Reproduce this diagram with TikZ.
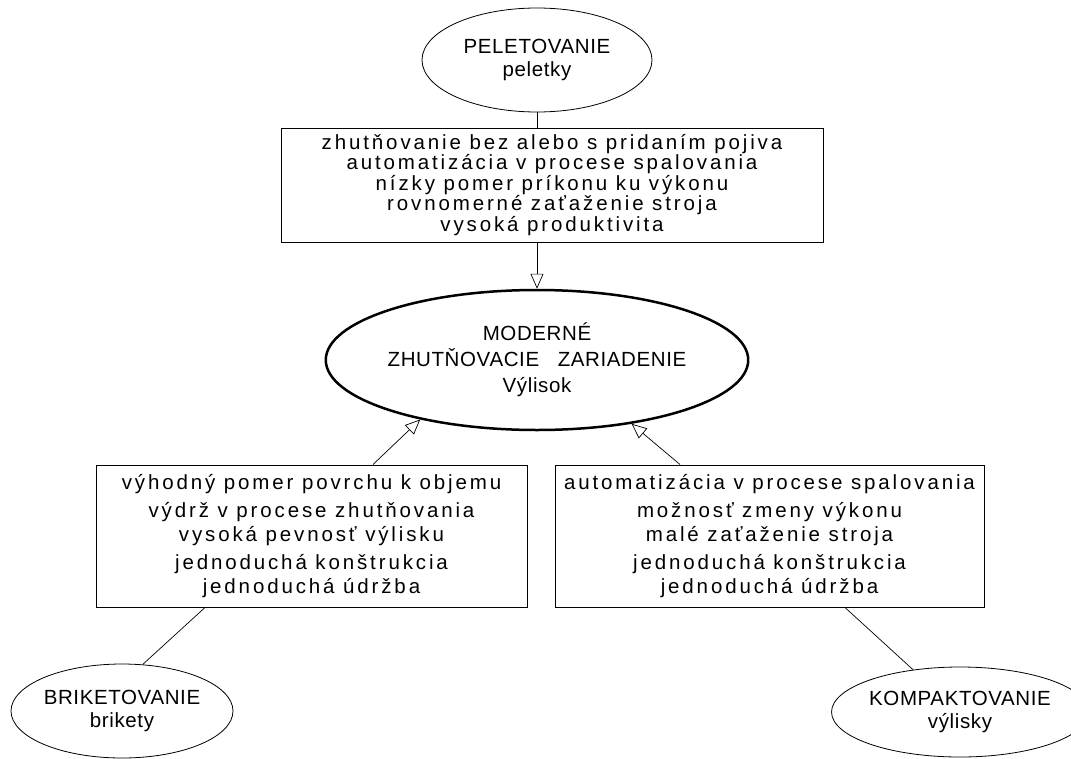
\documentclass[tikz,border=0pt]{standalone}
\usepackage{fontspec}
\setmainfont{Liberation Sans}
\newfontfamily\boxfont{Liberation Sans}[LetterSpace=14]
\newfontfamily\ellfont{Liberation Sans}[LetterSpace=3]
\usetikzlibrary{shapes.geometric,arrows.meta}
\tikzset{
  ell/.style={draw, ellipse, line width=0.8pt, inner sep=0pt, align=center,
    font=\ellfont\fontsize{20.5}{23}\selectfont},
  infobox/.style={draw, rectangle, line width=1pt, inner sep=0pt, align=center,
    font=\boxfont\fontsize{20.5}{20.5}\selectfont},
  conn/.style={line width=0.7pt},
  openarrow/.style={line width=0.7pt, -{Triangle[open,length=15pt,width=13pt]}}
}
\begin{document}
\begin{tikzpicture}[x=1pt,y=-1pt]
\useasboundingbox (0,0) rectangle (1071,758);

\node[ell, minimum width=230pt, minimum height=104pt] (pel) at (537,60)
  {PELETOVANIE\\peletky};

\node[infobox, minimum width=542pt, minimum height=114pt] (top) at (552,185)
  {zhutňovanie bez alebo s pridaním pojiva\\
   automatizácia v procese spalovania\\
   nízky pomer príkonu ku výkonu\\
   rovnomerné zaťaženie stroja\\
   vysoká produktivita};

\node[ell, line width=2.5pt, minimum width=380pt, minimum height=140pt,
  font=\ellfont\fontsize{20.5}{26}\selectfont] (mod) at (537,360)
  {MODERNÉ\\ZHUTŇOVACIE\hspace{0.6em} ZARIADENIE\\Výlisok};

\node[infobox, minimum width=431pt, minimum height=142pt,
  font=\boxfont\fontsize{20.5}{23.5}\selectfont] (lbox) at (311.5,536)
  {výhodný pomer povrchu k objemu\\[5pt]
   výdrž v procese zhutňovania\\
   vysoká pevnosť výlisku\\[5pt]
   jednoduchá konštrukcia\\
   jednoduchá údržba};

\node[infobox, minimum width=429pt, minimum height=142pt,
  font=\boxfont\fontsize{20.5}{23.5}\selectfont] (rbox) at (769.5,536)
  {automatizácia v procese spalovania\\[5pt]
   možnosť zmeny výkonu\\
   malé zaťaženie stroja\\[5pt]
   jednoduchá konštrukcia\\
   jednoduchá údržba};

\node[ell, minimum width=222pt, minimum height=94pt] (bri) at (122,711)
  {BRIKETOVANIE\\brikety};

\node[ell, minimum width=220pt, minimum height=90pt] (kom) at (960,712)
  {KOMPAKTOVANIE\\výlisky};

\draw[conn] (pel.south) -- (pel.south |- top.north);
\draw[openarrow] (mod.north |- top.south) -- (mod.north);
\draw[openarrow] ([xshift=61.5pt]lbox.north) -- (mod.207.8);
\draw[openarrow] ([xshift=-89.5pt]rbox.north) -- (mod.326.9);
\draw[conn] ([xshift=-106.5pt]lbox.south) -- (bri.66);
\draw[conn] ([xshift=75.5pt]rbox.south) -- (kom.138);
\end{tikzpicture}
\end{document}
